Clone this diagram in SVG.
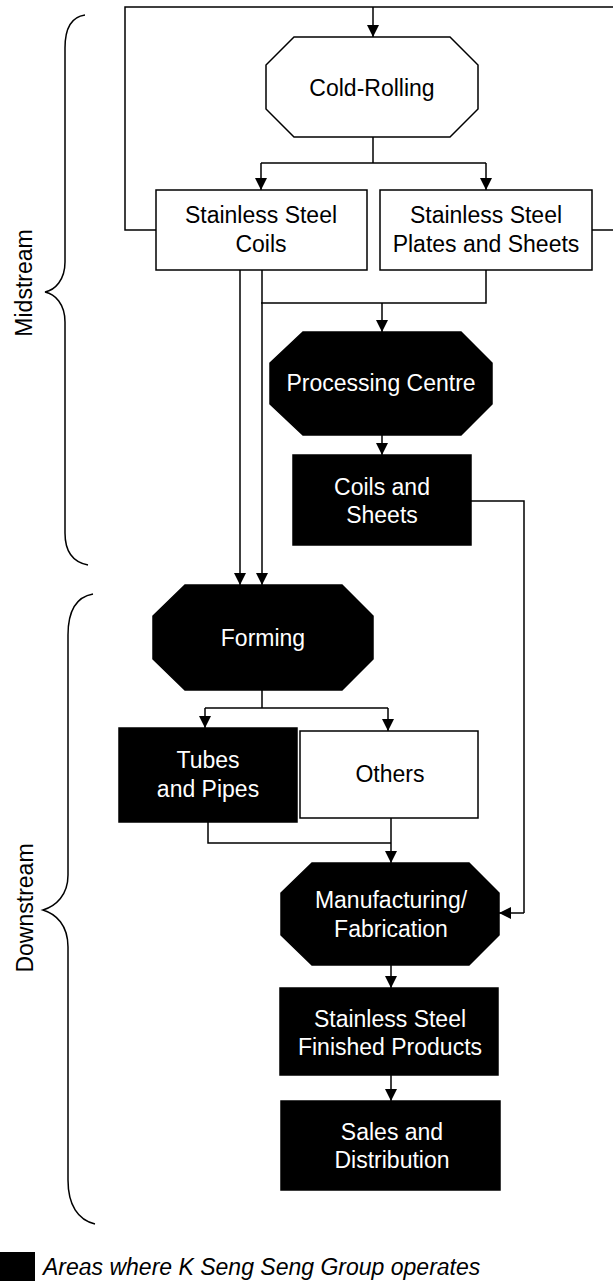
<svg xmlns="http://www.w3.org/2000/svg" width="613" height="1281" viewBox="0 0 613 1281">
<style>
  text { font-family: "Liberation Sans", Arial, sans-serif; font-size: 23px; text-anchor: middle; }
  .light { fill: #ffffff; stroke: #000000; stroke-width: 1.5; }
  .dark { fill: #000000; stroke: #000000; stroke-width: 1.5; }
  .lt { fill: #000000; }
  .dt { fill: #ffffff; }
  .conn { fill: none; stroke: #000000; stroke-width: 1.5; }
  .brace { fill: none; stroke: #000000; stroke-width: 1.5; }
  .side { fill: #000000; }
  .legend { font-style: italic; text-anchor: start; }
</style>
<defs>
  <marker id="arrow" viewBox="0 0 12 12" refX="12" refY="6" markerWidth="12" markerHeight="12" markerUnits="userSpaceOnUse" orient="auto">
    <path d="M0,0 L12,6 L0,12 Z" fill="#000000"/>
  </marker>
</defs>
<rect x="0" y="0" width="613" height="1281" fill="#ffffff"/>

<g id="connectors">
  <!-- top loop -->
  <polyline class="conn" points="156,230 125,230 125,7 613,7"/>
  <line class="conn" x1="373" y1="7" x2="373" y2="37" marker-end="url(#arrow)"/>
  <line class="conn" x1="592" y1="230" x2="613" y2="230"/>
  <!-- cold rolling split -->
  <polyline class="conn" points="373,137 373,163"/>
  <polyline class="conn" points="261,163 486,163"/>
  <line class="conn" x1="261" y1="163" x2="261" y2="190" marker-end="url(#arrow)"/>
  <line class="conn" x1="486" y1="163" x2="486" y2="190" marker-end="url(#arrow)"/>
  <!-- to processing centre -->
  <polyline class="conn" points="486,270 486,303 261,303"/>
  <line class="conn" x1="382" y1="303" x2="382" y2="332" marker-end="url(#arrow)"/>
  <!-- coils to forming -->
  <line class="conn" x1="240" y1="270" x2="240" y2="585" marker-end="url(#arrow)"/>
  <line class="conn" x1="262" y1="270" x2="262" y2="585" marker-end="url(#arrow)"/>
  <!-- processing to coils and sheets -->
  <line class="conn" x1="382" y1="435" x2="382" y2="455" marker-end="url(#arrow)"/>
  <!-- coils and sheets to manufacturing -->
  <polyline class="conn" points="471,501 524,501 524,913"/>
  <line class="conn" x1="524" y1="913" x2="499" y2="913" marker-end="url(#arrow)"/>
  <!-- forming split -->
  <polyline class="conn" points="262,690 262,708"/>
  <polyline class="conn" points="205,708 388,708"/>
  <line class="conn" x1="205" y1="708" x2="205" y2="728" marker-end="url(#arrow)"/>
  <line class="conn" x1="388" y1="708" x2="388" y2="731" marker-end="url(#arrow)"/>
  <!-- tubes/others to manufacturing -->
  <polyline class="conn" points="208,822 208,843 391,843"/>
  <line class="conn" x1="391" y1="818" x2="391" y2="863" marker-end="url(#arrow)"/>
  <!-- downstream chain -->
  <line class="conn" x1="391" y1="965" x2="391" y2="988" marker-end="url(#arrow)"/>
  <line class="conn" x1="391" y1="1075" x2="391" y2="1101" marker-end="url(#arrow)"/>
</g>

<g id="cold-rolling">
  <polygon class="light" points="294,37 450,37 478,65 478,109 450,137 294,137 266,109 266,65"/>
  <text class="lt" x="372" y="96">Cold-Rolling</text>
</g>

<g id="ss-coils">
  <rect class="light" x="156" y="190" width="211" height="80"/>
  <text class="lt" x="261" y="223">Stainless Steel</text>
  <text class="lt" x="261" y="252">Coils</text>
</g>

<g id="ss-plates">
  <rect class="light" x="380" y="190" width="212" height="80"/>
  <text class="lt" x="486" y="223">Stainless Steel</text>
  <text class="lt" x="486" y="252">Plates and Sheets</text>
</g>

<g id="processing-centre">
  <polygon class="dark" points="303,332 461,332 492,363 492,404 461,435 303,435 270,404 270,363"/>
  <text class="dt" x="381" y="391">Processing Centre</text>
</g>

<g id="coils-and-sheets">
  <rect class="dark" x="293" y="455" width="178" height="90"/>
  <text class="dt" x="382" y="495">Coils and</text>
  <text class="dt" x="382" y="523">Sheets</text>
</g>

<g id="forming">
  <polygon class="dark" points="185,585 342,585 373,616 373,659 342,690 185,690 153,659 153,616"/>
  <text class="dt" x="263" y="646">Forming</text>
</g>

<g id="tubes-and-pipes">
  <rect class="dark" x="119" y="728" width="178" height="94"/>
  <text class="dt" x="208" y="768">Tubes</text>
  <text class="dt" x="208" y="797">and Pipes</text>
</g>

<g id="others">
  <rect class="light" x="300" y="731" width="178" height="87"/>
  <text class="lt" x="390" y="782">Others</text>
</g>

<g id="manufacturing">
  <polygon class="dark" points="312,863 469,863 499,893 499,935 469,965 312,965 281,935 281,893"/>
  <text class="dt" x="391" y="908">Manufacturing/</text>
  <text class="dt" x="391" y="937">Fabrication</text>
</g>

<g id="finished-products">
  <rect class="dark" x="280" y="988" width="218" height="87"/>
  <text class="dt" x="390" y="1027">Stainless Steel</text>
  <text class="dt" x="390" y="1055">Finished Products</text>
</g>

<g id="sales-distribution">
  <rect class="dark" x="281" y="1101" width="219" height="89"/>
  <text class="dt" x="392" y="1140">Sales and</text>
  <text class="dt" x="392" y="1168">Distribution</text>
</g>

<g id="midstream-brace">
  <path class="brace" d="M85,15 C70,17 65,30 65,48 L65,262 C65,280 55,290 45,292 C55,294 65,304 65,322 L65,533 C65,550 72,562 88,565"/>
  <text class="side" transform="translate(32,283) rotate(-90)">Midstream</text>
</g>

<g id="downstream-brace">
  <path class="brace" d="M93,594 C76,597 68,612 68,635 L68,875 C68,895 56,906 43,910 C56,914 68,925 68,947 L68,1180 C68,1205 78,1220 95,1224"/>
  <text class="side" transform="translate(33,908) rotate(-90)">Downstream</text>
</g>

<g id="legend">
  <rect x="0" y="1252" width="35" height="29" fill="#000000"/>
  <text class="legend" x="43" y="1275">Areas where K Seng Seng Group operates</text>
</g>
</svg>
